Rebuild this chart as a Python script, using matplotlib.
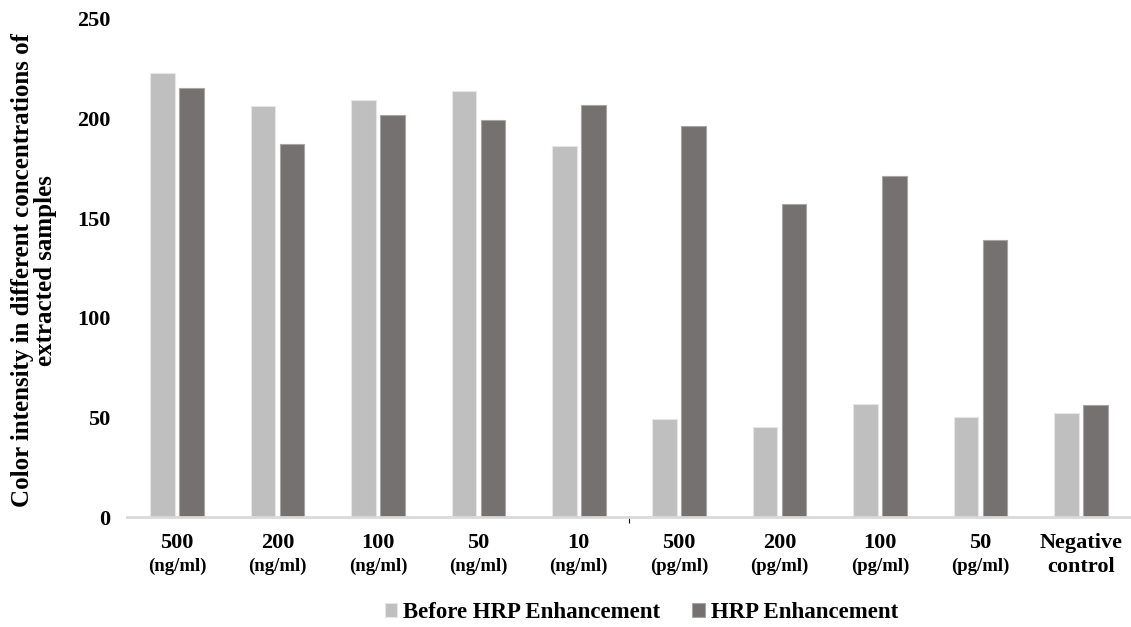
import numpy as np
import matplotlib.pyplot as plt

plt.rcParams['font.family'] = ['Liberation Serif', 'DejaVu Serif']
plt.rcParams['font.weight'] = 'bold'

# data
conc = ['500', '200', '100', '50', '10', '500', '200', '100', '50', 'Negative']
units = ['(ng/ml)'] * 5 + ['(pg/ml)'] * 4 + ['control']
before = [223, 206.5, 209.5, 214, 186, 49, 45, 56.5, 50, 52]
hrp = [215.5, 187.5, 202, 199.5, 207, 196.5, 157, 171, 139, 56]

x = np.arange(len(conc))
w = 0.245

fig = plt.figure(figsize=(11.31, 6.27), dpi=100)
ax = fig.add_axes([0.1123, 0.1754, 0.8877, 0.7943])

ax.bar(x - 0.145, before, w, color='#bfbfbf', edgecolor='#e6e6e6', linewidth=0.8,
       label='Before HRP Enhancement')
ax.bar(x + 0.145, hrp, w, color='#767171', edgecolor='#a6a6a6', linewidth=0.8,
       label='HRP Enhancement')

ax.set_xlim(-0.5, len(conc) - 0.5)
ax.set_ylim(0, 250)
ax.set_yticks(np.arange(0, 251, 50))
ax.tick_params(axis='y', length=0, labelsize=16, pad=12)
for t in ax.get_yticklabels():
    t.set_fontweight('bold')

ax.set_xticks(x)
ax.set_xticklabels([''] * len(x))
ax.tick_params(axis='x', length=0)
ax.set_xticks([4.5], minor=True)
ax.tick_params(axis='x', which='minor', length=4, width=0.8, color='black')

for s in ['top', 'right', 'left']:
    ax.spines[s].set_visible(False)
ax.spines['bottom'].set_color('#d9d9d9')
ax.spines['bottom'].set_linewidth(2)

tr = ax.get_xaxis_transform()
for i in range(len(x)):
    last = units[i] == 'control'
    ax.text(x[i], -0.052, conc[i], transform=tr, ha='center', va='center',
            fontsize=16, fontweight='bold')
    ax.text(x[i], -0.100, units[i], transform=tr, ha='center', va='center',
            fontsize=16 if last else 13.5, fontweight='bold')

fig.text(0.030, 0.569, 'Color intensity in different concentrations of\nextracted samples',
         rotation=90, ha='center', va='center', multialignment='center',
         fontsize=18, fontweight='bold', linespacing=1.0)

fig.legend(loc='center', bbox_to_anchor=(0.567, 0.023), ncol=2, frameon=False,
           handlelength=0.55, handleheight=0.55, handletextpad=0.25, columnspacing=1.4,
           prop={'size': 16.5, 'weight': 'bold'})

fig.savefig('out.png', dpi=100)
